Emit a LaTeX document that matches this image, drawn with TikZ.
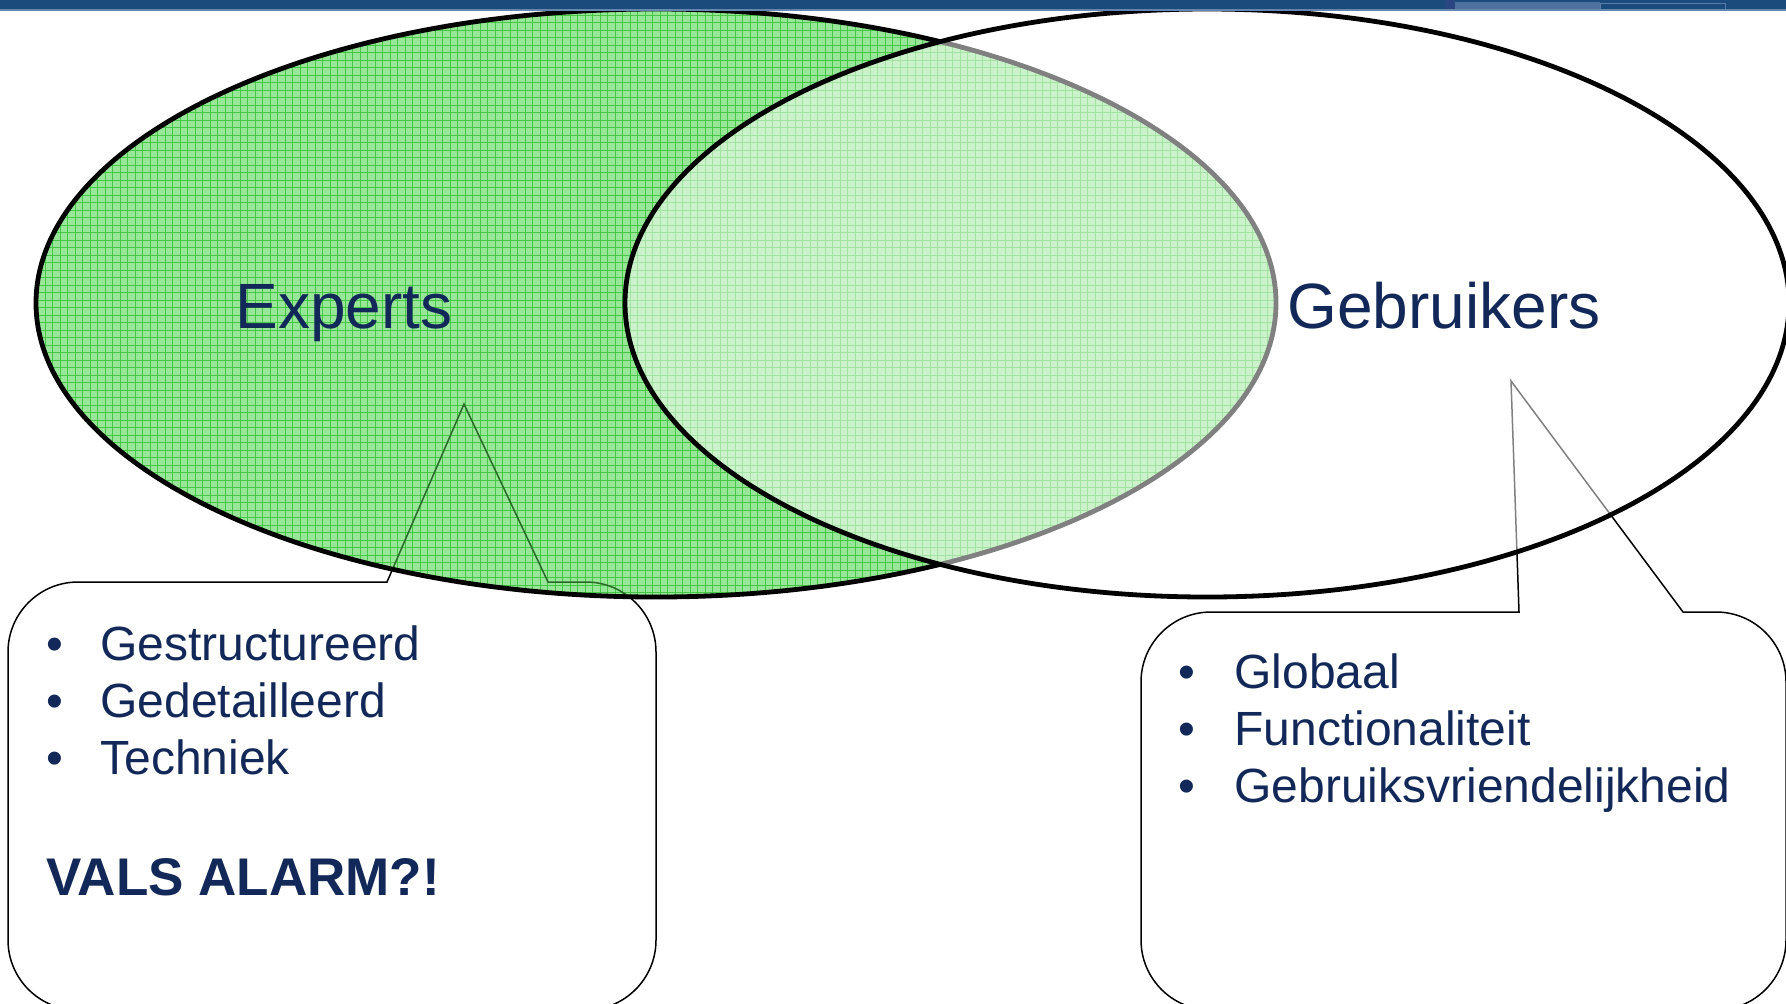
\documentclass[tikz,border=0pt]{standalone}
\usepackage{fontspec}
\setmainfont{Liberation Sans}
\definecolor{navy}{RGB}{17,40,88}
\definecolor{bandblue}{RGB}{27,74,125}
\definecolor{bandline}{RGB}{100,135,175}
\definecolor{bandA}{RGB}{42,70,128}
\definecolor{bandB}{RGB}{78,112,158}
\definecolor{bandC}{RGB}{90,125,170}
\definecolor{greenfill}{RGB}{152,230,152}
\definecolor{greengrid}{RGB}{70,200,70}
\definecolor{darkgreen}{RGB}{40,105,40}
\tikzset{
  calloutline/.style={draw=black, line width=0.75pt, line join=miter},
  ellipseline/.style={draw=black, line width=2.4pt},
  gridline/.style={draw=greengrid, line width=0.45pt},
  title/.style={font=\fontsize{32}{38}\selectfont, text=navy, inner sep=0pt, anchor=base west},
  item/.style={font=\fontsize{24}{29}\selectfont, text=navy, inner sep=0pt, anchor=base west},
  bul/.style={font=\fontsize{24}{29}\selectfont, text=navy, inner sep=0pt, anchor=base},
  alarm/.style={font=\fontsize{26.5}{32}\selectfont\bfseries, text=navy, inner sep=0pt, anchor=base west}
}
\begin{document}
\begin{tikzpicture}[x=0.5pt,y=-0.5pt]
\useasboundingbox (0,0) rectangle (1786,1003);
\fill[white] (0,0) rectangle (1786,1003);

% named points
\coordinate (ltip) at (464,404);
\coordinate (rtip) at (1511,381);
\coordinate (lc) at (656,303);
\coordinate (rc) at (1207,303);

% left callout
\path[calloutline, fill=white] (387,582) -- (78,582) arc[start angle=90,end angle=180,radius=35pt]
  -- (8,940) arc[start angle=180,end angle=270,radius=35pt]
  -- (586,1010) arc[start angle=270,end angle=360,radius=35pt]
  -- (656,652) arc[start angle=0,end angle=90,radius=35pt]
  -- (548,582) -- (ltip) -- cycle;

% right callout
\path[calloutline, fill=white] (1519,612) -- (1211,612) arc[start angle=90,end angle=180,radius=35pt]
  -- (1141,940) arc[start angle=180,end angle=270,radius=35pt]
  -- (1716,1010) arc[start angle=270,end angle=360,radius=35pt]
  -- (1786,682) arc[start angle=0,end angle=90,radius=35pt]
  -- (1683,612) -- (rtip) -- cycle;

% left ellipse (Experts)
\fill[greenfill] (lc) ellipse [x radius=310pt, y radius=147pt];
\begin{scope}
  \clip (lc) ellipse [x radius=310pt, y radius=147pt];
  \draw[gridline, step=3.75pt] (20,0) grid (1300,620);
  \path[calloutline, draw=darkgreen] (387,582) -- (78,582) arc[start angle=90,end angle=180,radius=35pt]
    -- (8,940) arc[start angle=180,end angle=270,radius=35pt]
    -- (586,1010) arc[start angle=270,end angle=360,radius=35pt]
    -- (656,652) arc[start angle=0,end angle=90,radius=35pt]
    -- (548,582) -- (ltip) -- cycle;
\end{scope}
\draw[ellipseline] (lc) ellipse [x radius=310pt, y radius=147pt];

% right ellipse (Gebruikers)
\fill[white, fill opacity=0.5] (rc) ellipse [x radius=291pt, y radius=147pt];
\draw[ellipseline] (rc) ellipse [x radius=291pt, y radius=147pt];

% titles
\node[title] (experts) at (235,328) {Experts};
\node[title] (gebruikers) at (1287,328) {Gebruikers};

% left items
\node[bul] (b1) at (55,660) {\textbullet};
\node[bul] (b2) at (55,717) {\textbullet};
\node[bul] (b3) at (55,774) {\textbullet};
\node[item] (i1) at (100,660) {Gestructureerd};
\node[item] (i2) at (100,717) {Gedetailleerd};
\node[item] (i3) at (100,774) {Techniek};
\node[alarm] (alarm) at (46,895) {VALS ALARM?!};

% right items
\node[bul] (c1) at (1187,688) {\textbullet};
\node[bul] (c2) at (1187,745) {\textbullet};
\node[bul] (c3) at (1187,802) {\textbullet};
\node[item] (j1) at (1234,688) {Globaal};
\node[item] (j2) at (1234,745) {Functionaliteit};
\node[item] (j3) at (1234,802) {Gebruiksvriendelijkheid};

% top band
\fill[bandblue] (0,0) rectangle (1786,9.5);
\fill[bandA] (1445,0) rectangle (1455,9.5);
\fill[bandB] (1455,2) rectangle (1600,9.5);
\draw[bandC, line width=0.5pt] (1600,9.5) -- (1600,3) -- (1725,3) -- (1725,9.5);
\draw[bandline, line width=0.6pt] (0,10) -- (1786,10);
\end{tikzpicture}
\end{document}
